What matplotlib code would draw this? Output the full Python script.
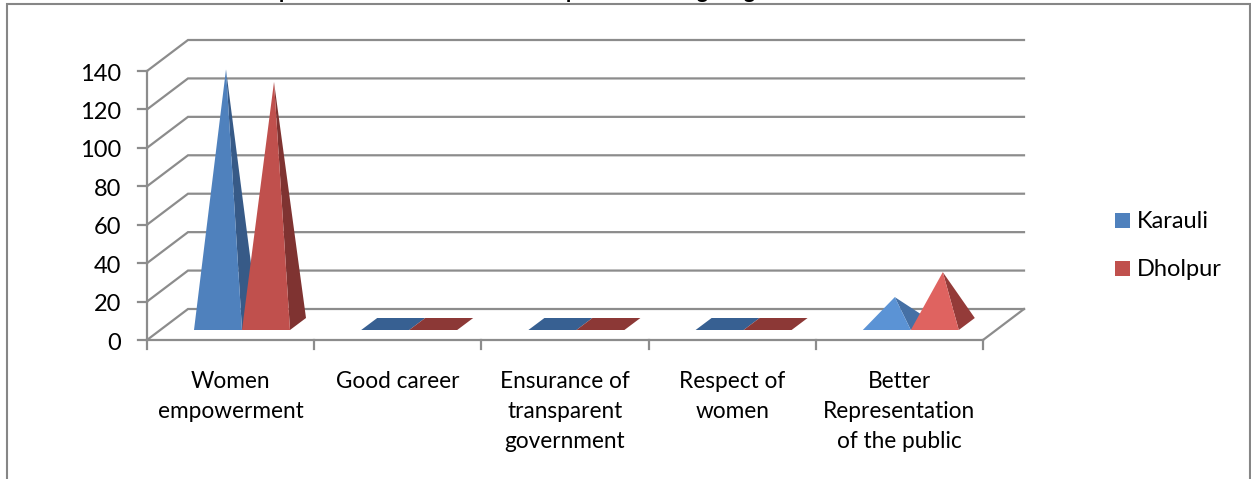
import matplotlib
matplotlib.use("Agg")
import matplotlib.pyplot as plt
from matplotlib.patches import Polygon

plt.rcParams['font.family'] = ['Lato', 'DejaVu Sans']

W, H = 1251, 479

categories = ["Women\nempowerment", "Good career", "Ensurance of\ntransparent\ngovernment",
              "Respect of\nwomen", "Better\nRepresentation\nof the public"]
karauli = [132.5, 0, 0, 0, 14]
dholpur = [126, 0, 0, 0, 27]
y_ticks = [0, 20, 40, 60, 80, 100, 120, 140]

# the title is cropped off the top, only its descenders show
title_letters = ["p", "p", "g", "g"]
title_letter_x_px = [285, 572, 702, 749]

# pixel layout of the 3D box
x0_px, x1_px = 147, 983
y0_px, y140_px = 340, 71
depth_x_px, depth_y_px = 41, 31

cat_px = (x1_px - x0_px) / len(categories)
val_px = (y0_px - y140_px) / 140
depth_x = depth_x_px / cat_px
depth_y = depth_y_px / val_px

fig = plt.figure(figsize=(W / 100, H / 100), dpi=100)
ax = fig.add_axes([0, 0, 1, 1])
ax.set_xlim(-x0_px / cat_px, (W - x0_px) / cat_px)
ax.set_ylim(-(H - y0_px) / val_px, y0_px / val_px)
ax.axis("off")

grid_c = "#8c8c8c"
lw = 1.6

# gridlines and walls
for v in y_ticks:
    ax.plot([0, depth_x, len(categories) + depth_x], [v, v + depth_y, v + depth_y],
            color=grid_c, lw=lw, solid_joinstyle="miter", zorder=1)
    ax.plot([-9 / cat_px, 0], [v, v], color=grid_c, lw=lw, zorder=1)
    ax.text(-0.155, v - 3 / val_px, str(v), ha="right", va="center", fontsize=17, color="black")

# front axes
ax.plot([0, 0], [0, 140], color=grid_c, lw=lw, zorder=1)
ax.plot([0, len(categories)], [0, 0], color=grid_c, lw=lw, zorder=1)
ax.plot([len(categories), len(categories) + depth_x], [0, depth_y], color=grid_c, lw=lw, zorder=1)
for i in range(len(categories) + 1):
    ax.plot([i, i], [0, -9 / val_px], color=grid_c, lw=lw, zorder=1)

# pyramid footprint within a category, as fractions of the box
gap = 47 / cat_px
bar_w = 48 / cat_px
front = 10 / val_px
pyr_dx = 16 / cat_px
pyr_dy = 12 / val_px


def pyramid(left, value, face, side, top, z):
    right = left + bar_w
    apex = (left + bar_w / 2 + pyr_dx / 2, front + pyr_dy / 2 + value)
    if value == 0:
        ax.add_patch(Polygon([(left, front), (right, front), (right + pyr_dx, front + pyr_dy),
                              (left + pyr_dx, front + pyr_dy)], closed=True, fc=top, ec="none", zorder=z))
        return
    ax.add_patch(Polygon([(right, front), (right + pyr_dx, front + pyr_dy), apex],
                         closed=True, fc=side, ec="none", zorder=z))
    ax.add_patch(Polygon([(left, front), (right, front), apex],
                         closed=True, fc=face, ec="none", zorder=z + 0.1))


for i, (a, b) in enumerate(zip(karauli, dholpur)):
    small = 0 < a < 50
    pyramid(i + gap, a, "#5b93d5" if small else "#4f81bd", "#4570a5" if small else "#375a87", "#376092", 3)
    pyramid(i + gap + bar_w, b, "#df6360" if small else "#c0504d", "#943b39" if small else "#7f3331", "#8c3836", 4)
    ax.text(i + 0.5, -(371 - y0_px) / val_px, categories[i], ha="center", va="top",
            fontsize=16.3, color="black", linespacing=1.52)

# legend
for label, colour, y_px in [("Karauli", "#4f81bd", 220.5), ("Dholpur", "#c0504d", 268.5)]:
    y = (y0_px - y_px) / val_px
    ax.add_patch(Polygon([((1115 - x0_px) / cat_px, y - 7.5 / val_px), ((1130 - x0_px) / cat_px, y - 7.5 / val_px),
                          ((1130 - x0_px) / cat_px, y + 7.5 / val_px), ((1115 - x0_px) / cat_px, y + 7.5 / val_px)],
                         closed=True, fc=colour, ec="none"))
    ax.text((1137 - x0_px) / cat_px, y - 1 / val_px, label, ha="left", va="center", fontsize=17, color="black")

# outer frame, open at the bottom
fx0, fx1 = (6.5 - x0_px) / cat_px, (1249.5 - x0_px) / cat_px
ftop = (y0_px - 3.5) / val_px
fbot = -(H - y0_px) / val_px
ax.plot([fx0, fx0, fx1, fx1], [fbot, ftop, ftop, fbot], color="#868686", lw=1.5, solid_joinstyle="miter", zorder=2)

for letter, x_px in zip(title_letters, title_letter_x_px):
    ax.text((x_px - x0_px) / cat_px, (y0_px + 2.5) / val_px, letter, ha="center", va="baseline",
            fontsize=15, fontweight="bold", color="black", zorder=1.5)

fig.savefig("out.png", dpi=100)
plt.close(fig)
